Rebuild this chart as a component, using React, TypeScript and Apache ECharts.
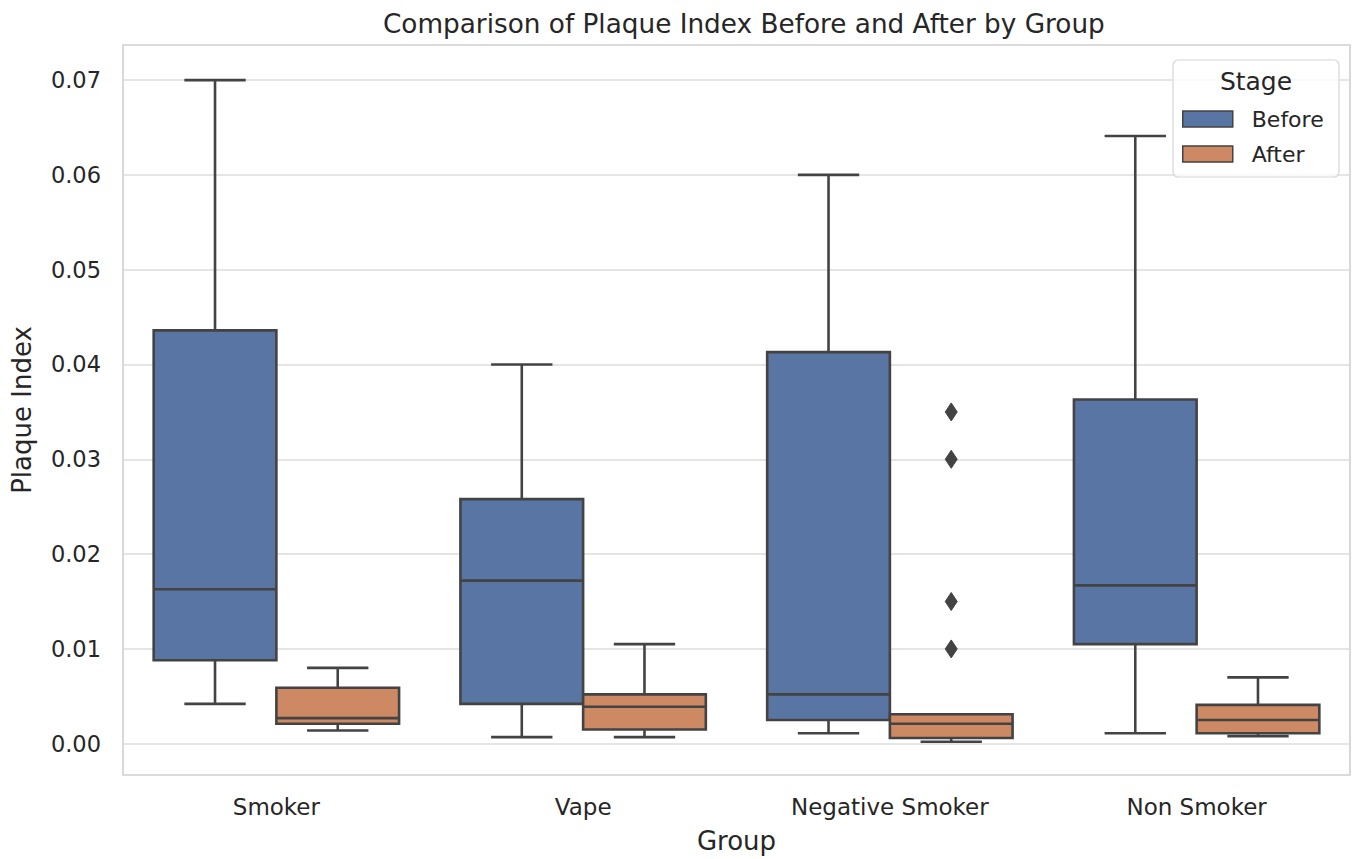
import React, { useEffect, useRef } from "react";
import * as echarts from "echarts";

const categories = ["Smoker", "Vape", "Negative Smoker", "Non Smoker"];
const stages = ["Before", "After"];

// five-number summaries per group: [lower whisker, Q1, median, Q3, upper whisker]
const beforeMin = [0.0042, 0.0007, 0.0011, 0.0011];
const beforeQ1 = [0.0088, 0.0042, 0.0025, 0.0105];
const beforeMedian = [0.0163, 0.0172, 0.0052, 0.0167];
const beforeQ3 = [0.0436, 0.0258, 0.0413, 0.0363];
const beforeMax = [0.07, 0.04, 0.06, 0.0641];

const afterMin = [0.0014, 0.0007, 0.0002, 0.0008];
const afterQ1 = [0.0021, 0.0015, 0.0006, 0.0011];
const afterMedian = [0.0027, 0.0039, 0.0021, 0.0025];
const afterQ3 = [0.0059, 0.0052, 0.0031, 0.0041];
const afterMax = [0.008, 0.0105, 0.0031, 0.007];

// outliers: [group index, stage index, value]
const outlierGroup = [2, 2, 2, 2];
const outlierStage = [1, 1, 1, 1];
const outlierValue = [0.035, 0.03, 0.015, 0.01];

const yTickMin = 0;
const yTickMax = 0.07;

const BEFORE = "#5975a4";
const AFTER = "#cc8963";
const EDGE = "#434343";
const TEXT = "#262626";
const FONT = "DejaVu Sans";

const stageOffset = [-0.2, 0.2];

function buildRows(mn: number[], q1: number[], md: number[], q3: number[], mx: number[]) {
  return categories.map((_, i) => [i, mn[i], q1[i], md[i], q3[i], mx[i]]);
}

function boxRenderer(stageIdx: number, fill: string) {
  return (params: any, api: any) => {
    const cat = api.value(0);
    const lo = api.value(1);
    const q1 = api.value(2);
    const md = api.value(3);
    const q3 = api.value(4);
    const hi = api.value(5);
    const band = api.size([1, 0])[0];
    const cx = api.coord([cat, 0])[0] + stageOffset[stageIdx] * band;
    const w = band * 0.4;
    const cap = w / 2;
    const y = (v: number) => api.coord([cat, v])[1];
    const ls = { stroke: EDGE, lineWidth: 2.6 };
    const children: any[] = [
      { type: "line", shape: { x1: cx, y1: y(q3), x2: cx, y2: y(hi) }, style: ls },
      { type: "line", shape: { x1: cx, y1: y(q1), x2: cx, y2: y(lo) }, style: ls },
      { type: "line", shape: { x1: cx - cap / 2, y1: y(hi), x2: cx + cap / 2, y2: y(hi) }, style: ls },
      { type: "line", shape: { x1: cx - cap / 2, y1: y(lo), x2: cx + cap / 2, y2: y(lo) }, style: ls },
      {
        type: "rect",
        shape: { x: cx - w / 2, y: y(q3), width: w, height: y(q1) - y(q3) },
        style: { fill, stroke: EDGE, lineWidth: 2.6 },
      },
      { type: "line", shape: { x1: cx - w / 2, y1: y(md), x2: cx + w / 2, y2: y(md) }, style: ls },
    ];
    return { type: "group", children };
  };
}

export default function App() {
  const ref = useRef<HTMLDivElement>(null);

  useEffect(() => {
    document.body.style.margin = "0";
    const chart = echarts.init(ref.current!, undefined, { renderer: "svg" });

    const outlierRows = outlierValue.map((v, i) => [outlierGroup[i], v, outlierStage[i]]);

    chart.setOption({
      animation: false,
      backgroundColor: "#ffffff",
      textStyle: { fontFamily: FONT, color: TEXT },
      title: {
        text: "Comparison of Plaque Index Before and After by Group",
        left: 378,
        top: 6,
        textStyle: { fontFamily: FONT, fontSize: 26.3, fontWeight: "normal", color: TEXT },
      },
      grid: {
        left: 123,
        top: 45,
        right: 2,
        bottom: 79,
        show: true,
        borderColor: "#cccccc",
        borderWidth: 1.5,
        containLabel: false,
      },
      legend: {
        data: stages,
        orient: "vertical",
        left: 1182,
        top: 108,
        padding: 0,
        itemWidth: 50,
        itemHeight: 16,
        itemGap: 13,
        icon: "rect",
        selectedMode: false,
        itemStyle: { borderColor: EDGE, borderWidth: 1.5 },
        textStyle: { fontFamily: FONT, fontSize: 22, lineHeight: 22, color: TEXT, padding: [0, 0, 0, 14] },
        z: 10,
      },
      graphic: [
        {
          type: "rect",
          z: 5,
          shape: { x: 1173, y: 60, width: 166, height: 117, r: 5 },
          style: { fill: "rgba(255,255,255,0.8)", stroke: "#d6d6d6", lineWidth: 1.2 },
        },
        {
          type: "text",
          z: 6,
          x: 1256,
          y: 81,
          style: {
            text: "Stage",
            fontFamily: FONT,
            fontSize: 25,
            fill: TEXT,
            align: "center",
            verticalAlign: "middle",
          },
        },
      ],
      xAxis: {
        type: "category",
        data: categories,
        boundaryGap: true,
        name: "Group",
        nameLocation: "middle",
        nameGap: 53,
        nameTextStyle: { fontFamily: FONT, fontSize: 26, color: TEXT },
        axisLine: { show: false },
        axisTick: { show: false },
        splitLine: { show: false },
        axisLabel: { fontFamily: FONT, fontSize: 23, color: TEXT, margin: 20 },
      },
      yAxis: {
        type: "value",
        min: -0.0033,
        max: 0.0737,
        minInterval: 0.01,
        maxInterval: 0.01,
        splitNumber: 7,
        name: "Plaque Index",
        nameLocation: "middle",
        nameRotate: 90,
        nameGap: 88,
        nameTextStyle: { fontFamily: FONT, fontSize: 26, color: TEXT },
        axisLine: { show: false },
        axisTick: { show: false },
        splitLine: { show: true, lineStyle: { color: "#dcdcdc", width: 1.5 } },
        axisLabel: {
          fontFamily: FONT,
          fontSize: 22.5,
          color: TEXT,
          margin: 22,
          showMinLabel: false,
          showMaxLabel: false,
          formatter: (v: number) =>
            v < yTickMin - 1e-9 || v > yTickMax + 1e-9 ? "" : Math.abs(v).toFixed(2),
        },
      },
      series: [
        {
          name: "Before",
          type: "custom",
          itemStyle: { color: BEFORE, borderColor: EDGE },
          encode: { x: 0, y: [1, 2, 3, 4, 5] },
          data: buildRows(beforeMin, beforeQ1, beforeMedian, beforeQ3, beforeMax),
          renderItem: boxRenderer(0, BEFORE),
          z: 2,
        },
        {
          name: "After",
          type: "custom",
          itemStyle: { color: AFTER, borderColor: EDGE },
          encode: { x: 0, y: [1, 2, 3, 4, 5] },
          data: buildRows(afterMin, afterQ1, afterMedian, afterQ3, afterMax),
          renderItem: boxRenderer(1, AFTER),
          z: 2,
        },
        {
          name: "Outliers",
          type: "custom",
          encode: { x: 0, y: 1 },
          data: outlierRows,
          z: 3,
          renderItem: (params: any, api: any) => {
            const cat = api.value(0);
            const v = api.value(1);
            const st = api.value(2);
            const band = api.size([1, 0])[0];
            const p = api.coord([cat, v]);
            const cx = p[0] + stageOffset[st] * band;
            const cy = p[1];
            const hw = 6;
            const hh = 9;
            return {
              type: "polygon",
              shape: {
                points: [
                  [cx, cy - hh],
                  [cx + hw, cy],
                  [cx, cy + hh],
                  [cx - hw, cy],
                ],
              },
              style: { fill: EDGE, stroke: EDGE, lineWidth: 1 },
            };
          },
        },
      ],
    });

    return () => chart.dispose();
  }, []);

  return <div ref={ref} style={{ width: 1352, height: 859 }} />;
}
